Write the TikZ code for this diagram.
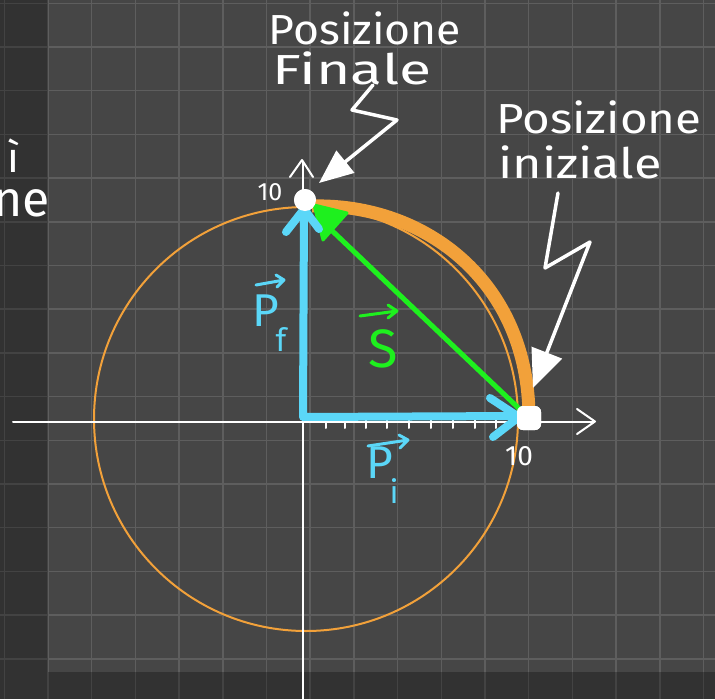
\documentclass[tikz,border=0pt]{standalone}
\usepackage{fontspec}
\setmainfont{Fira Sans}
\usetikzlibrary{arrows.meta}
\definecolor{bgmain}{HTML}{464646}
\definecolor{gridc}{HTML}{5E5E5E}
\definecolor{orng}{HTML}{F2A13A}
\definecolor{cyanb}{HTML}{5BD7F8}
\definecolor{grn}{HTML}{1EF01E}
\tikzset{
  hand/.style={text=white, font=\fontsize{42}{46}\selectfont, inner sep=0pt},
  axlbl/.style={text=white, font=\fontsize{28}{30}\selectfont, inner sep=0pt},
  veclbl/.style={inner sep=0pt, font=\fontsize{46}{50}\selectfont},
  overarrow/.style={line width=3pt, line cap=round, line join=round},
  axisline/.style={draw=white, line width=2pt, line cap=round, line join=round},
  bluevec/.style={draw=cyanb, line width=8pt, line cap=round, line join=round},
  zap/.style={draw=white, line width=3.5pt, line cap=round, line join=round},
  gridline/.style={draw=gridc, line width=1.5pt},
  dot/.style={fill=white, inner sep=0pt}
}
\newcommand{\subsc}[1]{\raisebox{-0.55em}{\fontsize{32}{32}\selectfont\kern-0.1em #1}}
\begin{document}
\begin{tikzpicture}[x=1pt,y=-1pt]
\useasboundingbox (0,0) rectangle (715,699);
% background and grid
\fill[bgmain] (0,0) rectangle (715,699);
\draw[gridline] (4.3,0) -- (4.3,699);
\foreach \i in {0,...,15} {
  \draw[gridline] ({48+43.7*\i},0) -- ({48+43.7*\i},699);
  \draw[gridline] (0,{3.3+43.7*\i}) -- (715,{3.3+43.7*\i});
}
\fill[black, opacity=0.28] (0,0) rectangle (48,699);
\fill[black, opacity=0.28] (48,672) rectangle (715,699);
% thin circle
\draw[orng, line width=2pt] (306,419) circle[radius=212pt];
% axes
\draw[axisline] (13,421.5) -- (594,421.5);
\draw[axisline] (577,409) -- (595,421.5) -- (577,434);
\draw[axisline] (303.3,699) -- (303.3,162);
\draw[axisline] (290,177) -- (302,160) -- (313,177);
% ticks
\foreach \x in {326,345,366,387,409,431,453,475,496}
  \draw[white, line width=2pt, line cap=round] (\x,419) -- (\x,428);
% points
\node[dot, circle, minimum size=22pt] (pf) at (305,200) {};
\node[dot, rounded corners=6pt, minimum size=24pt] (pi) at (529,418) {};
\coordinate (O) at (303,417);
% thick orange path
\draw[orng, line width=13pt] (pi.center) .. controls (529,282) and (425,203) .. (312,206);
% green displacement
\draw[grn, line width=5pt, line cap=round] (pi.center) -- (325,224);
\fill[grn, draw=grn, line width=3pt, line join=round] (314,205) -- (347,213) -- (323,240) -- cycle;
% blue vectors
\draw[bluevec] (pf.center) ++(-1,9) -- (O) -- (519,416);
\draw[bluevec] (490,398) -- (519,417) -- (493,437);
\draw[bluevec] (286,232) -- (304,209) -- (319,229);
% redraw dots on top
\node[dot, circle, minimum size=22pt] at (pf) {};
\node[dot, rounded corners=6pt, minimum size=24pt] at (pi) {};
% axis labels
\node[axlbl, font=\fontsize{25}{27}\selectfont] (l10y) at (270,192) {10};
\node[axlbl] (l10x) at (519,456) {10};
% vector labels
\node[veclbl, text=cyanb, anchor=base west] (lpf) at (252,326) {P\subsc{f}};
\draw[cyanb, overarrow] (256,285) -- (284,280) (276,275) -- (284,280) -- (277,287);
\node[veclbl, text=cyanb, anchor=base west] (lpi) at (366,478) {P\subsc{i}};
\draw[cyanb, overarrow] (368,446) -- (408,440) (399,435) -- (408,440) -- (400,448);
\node[veclbl, text=grn, font=\fontsize{54}{58}\selectfont] (ls) at (383,349) {S};
\draw[grn, overarrow] (360,316) -- (397,311) (388,305) -- (397,311) -- (388,318);
% titles
\node[hand, xscale=1.06] (t1a) at (365,28) {Posizione};
\node[hand, xscale=1.4] (t1b) at (352,68) {Finale};
\node[hand, xscale=1.13] (t2a) at (599,117) {Posizione};
\node[hand, xscale=1.2] (t2b) at (580,162) {iniziale};
\node[hand, anchor=base east] (lf1) at (20,172) {ì};
\node[hand, anchor=base east, font=\fontsize{50}{54}\selectfont] (lf2) at (50,216) {ne};
% lightning arrows
\coordinate (z1s) at (373,85);
\coordinate (z1e) at (319,183);
\draw[zap, -{Triangle[length=34pt,width=28pt]}] (z1s) -- (352,110) -- (397,120) -- (z1e);
\coordinate (z2s) at (558,193);
\coordinate (z2e) at (533,388);
\draw[zap, -{Triangle[length=38pt,width=32pt]}] (z2s) -- (545,268) -- (590,242) -- (z2e);
\end{tikzpicture}
\end{document}
